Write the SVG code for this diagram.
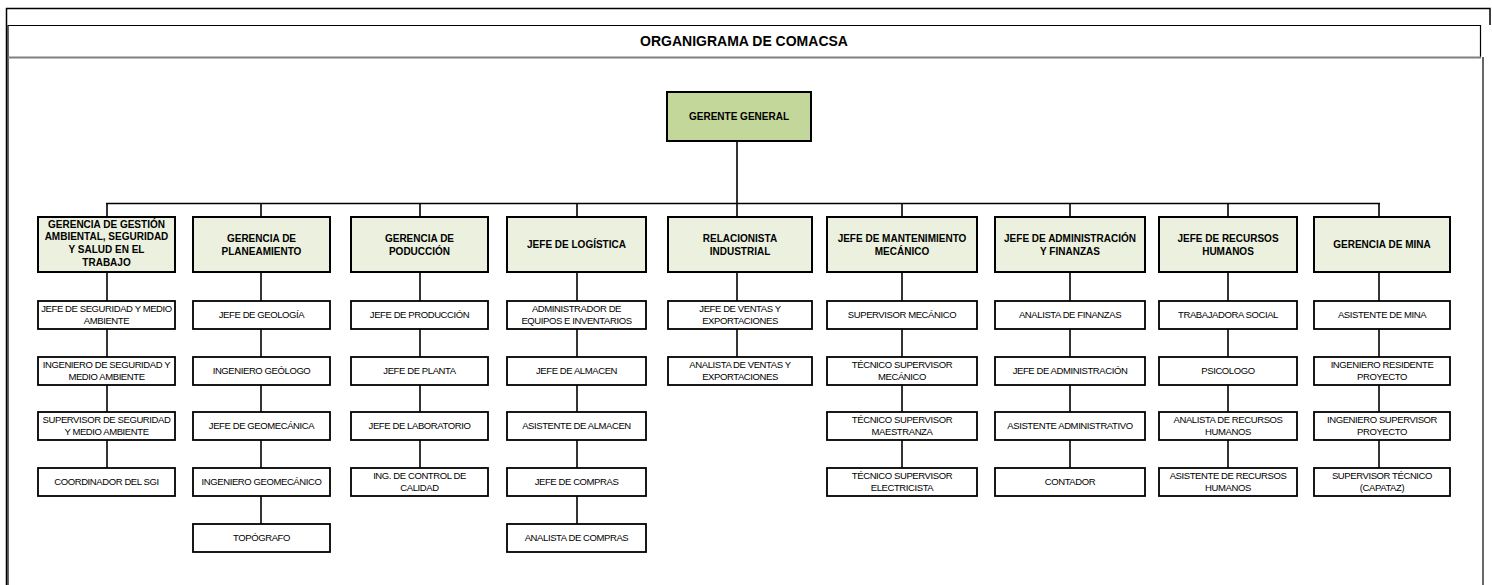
<svg xmlns="http://www.w3.org/2000/svg" width="1492" height="585" viewBox="0 0 1492 585">
<style>
.frame{fill:none;stroke:#000;stroke-width:1.5}
.gg{fill:#c4d79b;stroke:#000;stroke-width:2}
.l1{fill:#ebf1de;stroke:#000;stroke-width:2}
.l2{fill:#fff;stroke:#000;stroke-width:1.8}
.ln{fill:none;stroke:#000;stroke-width:1.6}
.tt{font-family:"Liberation Sans",Arial,sans-serif;font-weight:bold;font-size:14px;text-anchor:middle;fill:#000}
.t1{font-family:"Liberation Sans",Arial,sans-serif;font-weight:bold;font-size:10px;text-anchor:middle;fill:#000}
.t2{font-family:"Liberation Sans",Arial,sans-serif;font-size:9.5px;letter-spacing:-0.4px;text-anchor:middle;fill:#000}
</style>
<rect x="0" y="0" width="1492" height="585" fill="#fff"/>
<g id="frame">
<path class="frame" d="M6.5,585 V8.5 H1490 V25"/>
<path d="M8,25.5 H1480.5 V57" fill="none" stroke="#000" stroke-width="1.2"/>
<line x1="8" y1="25" x2="8" y2="585" stroke="#000" stroke-width="1.2"/>
<line x1="8" y1="57.5" x2="1481" y2="57.5" stroke="#808080" stroke-width="2"/>
<line x1="1483" y1="57" x2="1483" y2="585" stroke="#000" stroke-width="1.2"/>
<text class="tt" x="744" y="46">ORGANIGRAMA DE COMACSA</text>
</g>
<g id="connectors">
<line class="ln" x1="737" y1="141" x2="737" y2="203"/>
<line class="ln" x1="106" y1="203.5" x2="1380" y2="203.5"/>
<line class="ln" x1="107" y1="203" x2="107" y2="468"/>
<line class="ln" x1="261" y1="203" x2="261" y2="524"/>
<line class="ln" x1="420" y1="203" x2="420" y2="468"/>
<line class="ln" x1="577" y1="203" x2="577" y2="524"/>
<line class="ln" x1="737" y1="203" x2="737" y2="357"/>
<line class="ln" x1="902" y1="203" x2="902" y2="468"/>
<line class="ln" x1="1070" y1="203" x2="1070" y2="468"/>
<line class="ln" x1="1228" y1="203" x2="1228" y2="468"/>
<line class="ln" x1="1379" y1="203" x2="1379" y2="468"/>
</g>
<g id="gerente-general">
<rect class="gg" x="667" y="92" width="144" height="49"/>
<text class="t1" x="739" y="120">GERENTE GENERAL</text>
</g>
<g id="gerencia-gestion-ambiental">
<rect class="l1" x="38" y="217" width="137" height="55"/>
<text class="t1" x="106.5" y="227.5">GERENCIA DE GESTIÓN</text>
<text class="t1" x="106.5" y="240.3">AMBIENTAL, SEGURIDAD</text>
<text class="t1" x="106.5" y="253">Y SALUD EN EL</text>
<text class="t1" x="106.5" y="265.7">TRABAJO</text>
</g>
<g id="gerencia-planeamiento">
<rect class="l1" x="193" y="217" width="137" height="55"/>
<text class="t1" x="261.5" y="241.5">GERENCIA DE</text>
<text class="t1" x="261.5" y="254.5">PLANEAMIENTO</text>
</g>
<g id="gerencia-produccion">
<rect class="l1" x="351" y="217" width="137" height="55"/>
<text class="t1" x="419.5" y="241.5">GERENCIA DE</text>
<text class="t1" x="419.5" y="254.5">PODUCCIÓN</text>
</g>
<g id="jefe-logistica">
<rect class="l1" x="507" y="217" width="139" height="55"/>
<text class="t1" x="576.5" y="248">JEFE DE LOGÍSTICA</text>
</g>
<g id="relacionista-industrial">
<rect class="l1" x="668" y="217" width="144" height="55"/>
<text class="t1" x="740" y="241.5">RELACIONISTA</text>
<text class="t1" x="740" y="254.5">INDUSTRIAL</text>
</g>
<g id="jefe-mantenimiento">
<rect class="l1" x="827" y="217" width="150" height="55"/>
<text class="t1" x="902" y="241.5">JEFE DE MANTENIMIENTO</text>
<text class="t1" x="902" y="254.5">MECÁNICO</text>
</g>
<g id="jefe-administracion">
<rect class="l1" x="995" y="217" width="150" height="55"/>
<text class="t1" x="1070" y="241.5">JEFE DE ADMINISTRACIÓN</text>
<text class="t1" x="1070" y="254.5">Y FINANZAS</text>
</g>
<g id="jefe-rrhh">
<rect class="l1" x="1159" y="217" width="138" height="55"/>
<text class="t1" x="1228" y="241.5">JEFE DE RECURSOS</text>
<text class="t1" x="1228" y="254.5">HUMANOS</text>
</g>
<g id="gerencia-mina">
<rect class="l1" x="1314" y="217" width="136" height="55"/>
<text class="t1" x="1382" y="248">GERENCIA DE MINA</text>
</g>

<g id="c1-r1"><rect class="l2" x="38" y="301" width="137" height="28"/><text class="t2" x="106.5" y="312.4">JEFE DE SEGURIDAD Y MEDIO</text><text class="t2" x="106.5" y="324.4">AMBIENTE</text></g>
<g id="c1-r2"><rect class="l2" x="38" y="357" width="137" height="28"/><text class="t2" x="106.5" y="368.4">INGENIERO DE SEGURIDAD Y</text><text class="t2" x="106.5" y="380.4">MEDIO AMBIENTE</text></g>
<g id="c1-r3"><rect class="l2" x="38" y="412" width="137" height="28"/><text class="t2" x="106.5" y="423.4">SUPERVISOR DE SEGURIDAD</text><text class="t2" x="106.5" y="435.4">Y MEDIO AMBIENTE</text></g>
<g id="c1-r4"><rect class="l2" x="38" y="468" width="137" height="28"/><text class="t2" x="106.5" y="485.4">COORDINADOR DEL SGI</text></g>

<g id="c2-r1"><rect class="l2" x="193" y="301" width="137" height="28"/><text class="t2" x="261.5" y="318.4">JEFE DE GEOLOGÍA</text></g>
<g id="c2-r2"><rect class="l2" x="193" y="357" width="137" height="28"/><text class="t2" x="261.5" y="374.4">INGENIERO GEÓLOGO</text></g>
<g id="c2-r3"><rect class="l2" x="193" y="412" width="137" height="28"/><text class="t2" x="261.5" y="429.4">JEFE DE GEOMECÁNICA</text></g>
<g id="c2-r4"><rect class="l2" x="193" y="468" width="137" height="28"/><text class="t2" x="261.5" y="485.4">INGENIERO GEOMECÁNICO</text></g>
<g id="c2-r5"><rect class="l2" x="193" y="524" width="137" height="28"/><text class="t2" x="261.5" y="541.4">TOPÓGRAFO</text></g>

<g id="c3-r1"><rect class="l2" x="351" y="301" width="137" height="28"/><text class="t2" x="419.5" y="318.4">JEFE DE PRODUCCIÓN</text></g>
<g id="c3-r2"><rect class="l2" x="351" y="357" width="137" height="28"/><text class="t2" x="419.5" y="374.4">JEFE DE PLANTA</text></g>
<g id="c3-r3"><rect class="l2" x="351" y="412" width="137" height="28"/><text class="t2" x="419.5" y="429.4">JEFE DE LABORATORIO</text></g>
<g id="c3-r4"><rect class="l2" x="351" y="468" width="137" height="28"/><text class="t2" x="419.5" y="479.4">ING. DE CONTROL DE</text><text class="t2" x="419.5" y="491.4">CALIDAD</text></g>

<g id="c4-r1"><rect class="l2" x="507" y="301" width="139" height="28"/><text class="t2" x="576.5" y="312.4">ADMINISTRADOR DE</text><text class="t2" x="576.5" y="324.4">EQUIPOS E INVENTARIOS</text></g>
<g id="c4-r2"><rect class="l2" x="507" y="357" width="139" height="28"/><text class="t2" x="576.5" y="374.4">JEFE DE ALMACEN</text></g>
<g id="c4-r3"><rect class="l2" x="507" y="412" width="139" height="28"/><text class="t2" x="576.5" y="429.4">ASISTENTE DE ALMACEN</text></g>
<g id="c4-r4"><rect class="l2" x="507" y="468" width="139" height="28"/><text class="t2" x="576.5" y="485.4">JEFE DE COMPRAS</text></g>
<g id="c4-r5"><rect class="l2" x="507" y="524" width="139" height="28"/><text class="t2" x="576.5" y="541.4">ANALISTA DE COMPRAS</text></g>

<g id="c5-r1"><rect class="l2" x="668" y="301" width="144" height="28"/><text class="t2" x="740" y="312.4">JEFE DE VENTAS Y</text><text class="t2" x="740" y="324.4">EXPORTACIONES</text></g>
<g id="c5-r2"><rect class="l2" x="668" y="357" width="144" height="28"/><text class="t2" x="740" y="368.4">ANALISTA DE VENTAS Y</text><text class="t2" x="740" y="380.4">EXPORTACIONES</text></g>

<g id="c6-r1"><rect class="l2" x="827" y="301" width="150" height="28"/><text class="t2" x="902" y="318.4">SUPERVISOR MECÁNICO</text></g>
<g id="c6-r2"><rect class="l2" x="827" y="357" width="150" height="28"/><text class="t2" x="902" y="368.4">TÉCNICO SUPERVISOR</text><text class="t2" x="902" y="380.4">MECÁNICO</text></g>
<g id="c6-r3"><rect class="l2" x="827" y="412" width="150" height="28"/><text class="t2" x="902" y="423.4">TÉCNICO SUPERVISOR</text><text class="t2" x="902" y="435.4">MAESTRANZA</text></g>
<g id="c6-r4"><rect class="l2" x="827" y="468" width="150" height="28"/><text class="t2" x="902" y="479.4">TÉCNICO SUPERVISOR</text><text class="t2" x="902" y="491.4">ELECTRICISTA</text></g>

<g id="c7-r1"><rect class="l2" x="995" y="301" width="150" height="28"/><text class="t2" x="1070" y="318.4">ANALISTA DE FINANZAS</text></g>
<g id="c7-r2"><rect class="l2" x="995" y="357" width="150" height="28"/><text class="t2" x="1070" y="374.4">JEFE DE ADMINISTRACIÓN</text></g>
<g id="c7-r3"><rect class="l2" x="995" y="412" width="150" height="28"/><text class="t2" x="1070" y="429.4">ASISTENTE ADMINISTRATIVO</text></g>
<g id="c7-r4"><rect class="l2" x="995" y="468" width="150" height="28"/><text class="t2" x="1070" y="485.4">CONTADOR</text></g>

<g id="c8-r1"><rect class="l2" x="1159" y="301" width="138" height="28"/><text class="t2" x="1228" y="318.4">TRABAJADORA SOCIAL</text></g>
<g id="c8-r2"><rect class="l2" x="1159" y="357" width="138" height="28"/><text class="t2" x="1228" y="374.4">PSICOLOGO</text></g>
<g id="c8-r3"><rect class="l2" x="1159" y="412" width="138" height="28"/><text class="t2" x="1228" y="423.4">ANALISTA DE RECURSOS</text><text class="t2" x="1228" y="435.4">HUMANOS</text></g>
<g id="c8-r4"><rect class="l2" x="1159" y="468" width="138" height="28"/><text class="t2" x="1228" y="479.4">ASISTENTE DE RECURSOS</text><text class="t2" x="1228" y="491.4">HUMANOS</text></g>

<g id="c9-r1"><rect class="l2" x="1314" y="301" width="136" height="28"/><text class="t2" x="1382" y="318.4">ASISTENTE DE MINA</text></g>
<g id="c9-r2"><rect class="l2" x="1314" y="357" width="136" height="28"/><text class="t2" x="1382" y="368.4">INGENIERO RESIDENTE</text><text class="t2" x="1382" y="380.4">PROYECTO</text></g>
<g id="c9-r3"><rect class="l2" x="1314" y="412" width="136" height="28"/><text class="t2" x="1382" y="423.4">INGENIERO SUPERVISOR</text><text class="t2" x="1382" y="435.4">PROYECTO</text></g>
<g id="c9-r4"><rect class="l2" x="1314" y="468" width="136" height="28"/><text class="t2" x="1382" y="479.4">SUPERVISOR TÉCNICO</text><text class="t2" x="1382" y="491.4">(CAPATAZ)</text></g>
</svg>
